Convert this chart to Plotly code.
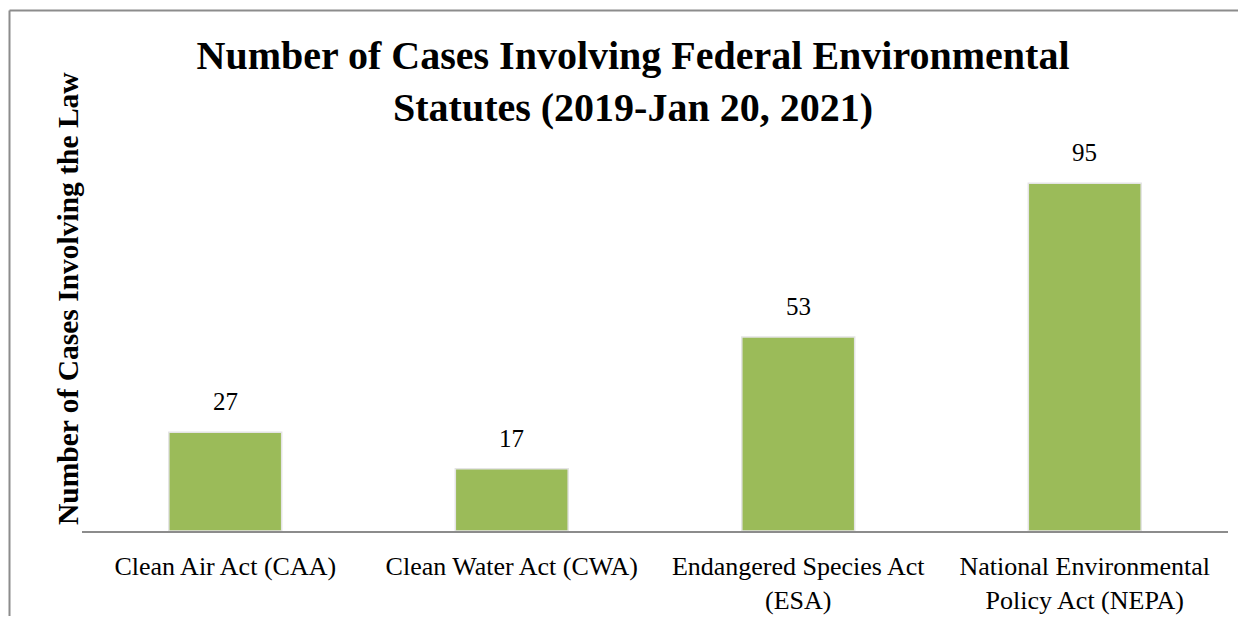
import plotly.graph_objects as go

# ---- data ----
categories = ["CAA", "CWA", "ESA", "NEPA"]
tick_labels = [
    "Clean Air Act (CAA)",
    "Clean Water Act (CWA)",
    "Endangered Species Act<br>(ESA)",
    "National Environmental<br>Policy Act (NEPA)",
]
case_counts = [27, 17, 53, 95]

title_text = "Number of Cases Involving Federal Environmental<br>Statutes (2019-Jan 20, 2021)"
y_title_text = "Number of Cases Involving the Law"

# ---- layout constants (page body has an 8px margin on every side) ----
OFF = 8
W, H = 1246 - 2 * OFF, 624 - 2 * OFF
ML = 82 - OFF
MT = 165 - OFF
MR = W - (1228 - OFF)
MB = H - (531 - OFF)
PW, PH = W - ML - MR, H - MT - MB
FONT = "Liberation Serif"
BAR_COLOR = "#9BBB59"


def px_x(px):
    return (px - OFF - ML) / PW


def px_y(py):
    return (H - MB - (py - OFF)) / PH


fig = go.Figure()
fig.add_trace(
    go.Bar(
        x=categories,
        y=case_counts,
        marker=dict(color=BAR_COLOR, line=dict(color="#e4e4e4", width=1.5)),
        hoverinfo="x+y",
        showlegend=False,
    )
)

annotations = []
for c, v in zip(categories, case_counts):
    annotations.append(
        dict(
            x=c, y=v, xref="x", yref="y",
            text=str(v), showarrow=False,
            yanchor="bottom", yshift=15,
            font=dict(family=FONT, size=25, color="#000000"),
        )
    )

annotations.append(
    dict(
        x=px_x(68), y=px_y(299), xref="paper", yref="paper",
        text="<b>" + y_title_text + "</b>", showarrow=False,
        textangle=-90, xanchor="center", yanchor="middle",
        font=dict(family=FONT, size=29.5, color="#000000"),
    )
)

frame_color = "#8c8c8c"
shapes = [
    dict(type="line", xref="paper", yref="paper",
         x0=px_x(9.5), x1=px_x(9.5), y0=px_y(640), y1=px_y(10.5),
         line=dict(color=frame_color, width=2)),
    dict(type="line", xref="paper", yref="paper",
         x0=px_x(9.5), x1=px_x(1260), y0=px_y(10.5), y1=px_y(10.5),
         line=dict(color=frame_color, width=2)),
]

fig.update_layout(
    width=W, height=H,
    margin=dict(l=ML, r=MR, t=MT, b=MB, autoexpand=False),
    paper_bgcolor="white", plot_bgcolor="white",
    bargap=0.606,
    title=dict(
        text="<b>" + title_text + "</b>",
        x=(633 - OFF) / W, xanchor="center", xref="container",
        y=1 - (69 - OFF) / H, yanchor="top", yref="container",
        font=dict(family=FONT, size=40, color="#000000"),
    ),
    xaxis=dict(
        tickmode="array", tickvals=categories, ticktext=tick_labels,
        showline=True, linecolor="#8c8c8c", linewidth=2,
        ticks="", showgrid=False, zeroline=False, automargin=False,
        tickfont=dict(family=FONT, size=26, color="#000000"),
        ticklabelstandoff=11,
    ),
    yaxis=dict(
        range=[0, 100], showticklabels=False, showgrid=False,
        zeroline=False, showline=False, ticks="", automargin=False,
    ),
    annotations=annotations,
    shapes=shapes,
)

fig.write_html("out.html")
